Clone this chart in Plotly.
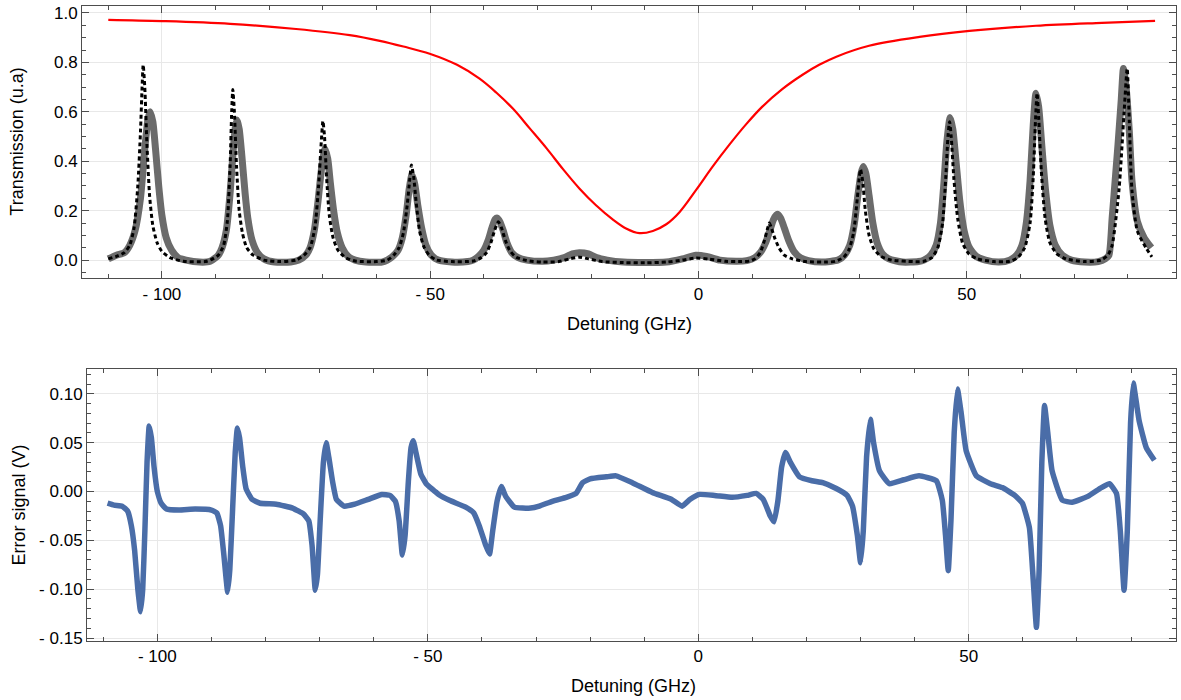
import plotly.graph_objects as go

# ---------------- data ----------------
red_x = [-110, -100, -87.3, -75, -65, -59.4, -55, -50.1, -45, -40.8, -37.7, -34.6, -31.45, -28.3, -25.25,
         -22.2, -19.1, -16, -13.5, -11, -8.5, -6, -3.5, -0.4, 2.7, 5.8, 8.9, 11.9, 15.5, 19.4, 22.5, 25.7,
         31.8, 41.2, 50.5, 62.9, 75.2, 85.1]
red_y = [0.972, 0.967, 0.956, 0.935, 0.91, 0.887, 0.864, 0.835, 0.79, 0.734, 0.678, 0.613, 0.533, 0.452, 0.368,
         0.29, 0.222, 0.165, 0.128, 0.109, 0.118, 0.145, 0.195, 0.285, 0.38, 0.468, 0.55, 0.621, 0.69, 0.75, 0.79, 0.823,
         0.867, 0.903, 0.927, 0.948, 0.96, 0.968]

gray_x = [-110, -108.5, -107, -106, -105, -104, -103.2, -102.6, -102.2, -101.7, -101.2, -100.6, -100, -99.2, -98.2, -97, -95.5, -93, -91,
          -89.5, -88.8, -88, -87.3, -86.7, -86.3, -86.0, -85.6, -85.1, -84.5, -84, -83.2, -82.2, -81, -79, -76,
          -74.5, -73.2, -72.4, -71.6, -70.9, -70.2, -69.6, -69.1, -68.6, -68, -67.3, -66.4, -65.3, -64, -62, -59,
          -58, -57, -56, -55.2, -54.5, -53.9, -53.4, -52.9, -52.3, -51.6, -50.8, -49.8, -48.5, -46, -43,
          -42, -41, -40, -39.2, -38.5, -37.9, -37.5, -37, -36.4, -35.7, -34.8, -33.6, -32, -29,
          -27, -25, -23.5, -22.2, -20.5, -19, -17, -14, -10, -6, -3, -0.5, 1.5, 4, 7,
          9, 10.5, 11.5, 12.5, 13.3, 14, 14.7, 15.3, 16, 16.8, 17.8, 19, 20.5, 23,
          26, 27.2, 28.2, 29, 29.7, 30.3, 30.7, 31.2, 31.8, 32.5, 33.3, 34.3, 35.5, 38, 41,
          42, 43.3, 44.3, 45.1, 45.7, 46.3, 46.9, 47.4, 48, 48.7, 49.5, 50.5, 51.8, 53.5, 56,
          58, 59.3, 60.3, 61.1, 61.8, 62.4, 62.9, 63.4, 64, 64.7, 65.5, 66.5, 67.8, 69.5, 72,
          74.5, 75.8, 76.5, 77.1, 77.8, 78.2, 78.8, 79.2, 79.7, 80.3, 80.8, 81.8, 83.1, 84.4]
gray_y = [0.005, 0.02, 0.03, 0.06, 0.12, 0.25, 0.45, 0.57, 0.60, 0.56, 0.45, 0.30, 0.18, 0.09, 0.04, 0.01, 0.0, -0.008, -0.005,
          0.02, 0.05, 0.12, 0.27, 0.45, 0.54, 0.567, 0.53, 0.42, 0.27, 0.17, 0.08, 0.03, 0.005, -0.008, -0.008,
          0.0, 0.02, 0.05, 0.12, 0.24, 0.38, 0.45, 0.41, 0.31, 0.20, 0.11, 0.05, 0.015, 0.0, -0.008, -0.008,
          0.0, 0.015, 0.04, 0.09, 0.18, 0.29, 0.345, 0.31, 0.22, 0.13, 0.06, 0.02, 0.0, -0.008, -0.006,
          0.0, 0.015, 0.04, 0.08, 0.13, 0.165, 0.17, 0.155, 0.12, 0.07, 0.03, 0.01, 0.0, -0.005,
          0.0, 0.01, 0.025, 0.03, 0.025, 0.01, 0.0, -0.008, -0.01, -0.008, 0.005, 0.02, 0.015, 0.0, -0.005,
          -0.002, 0.01, 0.03, 0.07, 0.12, 0.165, 0.185, 0.17, 0.13, 0.08, 0.035, 0.01, -0.002, -0.008,
          0.0, 0.02, 0.06, 0.14, 0.26, 0.35, 0.379, 0.35, 0.26, 0.15, 0.07, 0.025, 0.005, -0.008, -0.006,
          0.0, 0.02, 0.06, 0.15, 0.30, 0.48, 0.577, 0.53, 0.40, 0.24, 0.12, 0.05, 0.015, 0.0, -0.008,
          0.0, 0.02, 0.06, 0.15, 0.32, 0.55, 0.675, 0.62, 0.46, 0.28, 0.14, 0.06, 0.02, 0.0, -0.008,
          -0.006, 0.005, 0.02, 0.17, 0.36, 0.47, 0.65, 0.775, 0.70, 0.52, 0.32, 0.157, 0.089, 0.05]

fit_x = [-110, -108.5, -107, -106, -105.2, -104.5, -104, -103.7, -103.5, -103.2, -102.8, -102.3, -101.7, -100.9, -100, -98.5, -96, -92,
         -91, -89.5, -88.5, -87.8, -87.3, -87.0, -86.8, -86.5, -86.1, -85.6, -85, -84.2, -83, -81, -78,
         -75, -73.5, -72.4, -71.5, -70.8, -70.3, -70.0, -69.7, -69.3, -68.8, -68.1, -67.2, -65.8, -64, -60,
         -58, -56.8, -55.8, -55, -54.3, -53.8, -53.5, -53.1, -52.6, -52, -51.2, -50.2, -48.8, -46,
         -42, -40.5, -39.5, -38.7, -38, -37.3, -36.7, -36, -35.2, -34, -32, -29,
         -26, -24, -22.2, -20.5, -18, -14, -10, -6, -3, -0.5, 2, 5, 8,
         9.5, 10.5, 11.5, 12.3, 12.9, 13.2, 13.6, 14.2, 15, 16, 17.5, 20, 24,
         25.5, 27, 28, 28.9, 29.6, 30, 30.2, 30.6, 31.1, 31.8, 32.7, 34, 36, 40,
         42, 43.5, 44.6, 45.5, 46.1, 46.5, 46.8, 47.1, 47.6, 48.3, 49.2, 50.4, 52, 55,
         58, 59.5, 60.8, 61.8, 62.4, 62.8, 63.1, 63.4, 63.9, 64.6, 65.5, 66.8, 68.5, 72,
         75, 76.3, 77.1, 78.4, 79.3, 79.9, 80.3, 80.8, 81.8, 83.4, 84.5]
fit_y = [0.005, 0.015, 0.03, 0.06, 0.13, 0.30, 0.52, 0.70, 0.79, 0.70, 0.47, 0.26, 0.14, 0.07, 0.035, 0.01, -0.005, -0.006,
         0.0, 0.02, 0.06, 0.16, 0.38, 0.60, 0.69, 0.60, 0.38, 0.20, 0.11, 0.05, 0.02, 0.0, -0.006,
         0.0, 0.02, 0.05, 0.13, 0.30, 0.48, 0.563, 0.50, 0.33, 0.18, 0.09, 0.04, 0.01, -0.004, -0.006,
         0.0, 0.02, 0.05, 0.11, 0.22, 0.33, 0.385, 0.34, 0.23, 0.12, 0.055, 0.02, 0.0, -0.006,
         -0.004, 0.01, 0.03, 0.07, 0.12, 0.155, 0.13, 0.08, 0.04, 0.012, -0.002, -0.008,
         -0.006, 0.005, 0.012, 0.005, -0.006, -0.01, -0.011, -0.008, 0.0, 0.008, 0.004, -0.005, -0.006,
         -0.004, 0.005, 0.03, 0.08, 0.13, 0.15, 0.13, 0.09, 0.05, 0.02, 0.005, -0.006, -0.008,
         -0.005, 0.01, 0.04, 0.11, 0.25, 0.34, 0.367, 0.32, 0.20, 0.10, 0.045, 0.015, 0.0, -0.006,
         -0.005, 0.01, 0.05, 0.15, 0.34, 0.50, 0.56, 0.50, 0.33, 0.17, 0.07, 0.025, 0.005, -0.006,
         -0.005, 0.01, 0.05, 0.15, 0.34, 0.56, 0.675, 0.58, 0.36, 0.17, 0.07, 0.025, 0.005, -0.006,
         0.0, 0.02, 0.06, 0.29, 0.59, 0.775, 0.56, 0.28, 0.117, 0.05, 0.013]

err_x = [-109.2, -108, -106.5, -105.5, -104.8, -104.2, -103.6, -103.1, -102.7, -102.3, -101.9, -101.5, -101.1, -100.6, -100,
         -99.3, -98.3, -96, -93, -90, -89, -88.3, -87.7, -87.0, -86.6, -86.1, -85.6, -85.2, -84.8, -84.2, -83.6, -82.5,
         -81, -78, -75, -73, -72, -71.4, -70.8, -70.4, -69.9, -69.3, -68.8, -68.3, -67.6, -66.9, -65.5, -63.5, -61,
         -58.5, -57, -56, -55.3, -54.7, -54.2, -53.6, -53.1, -52.7, -52.2, -51.3, -50.3, -48, -46, -43, -41.5, -40.5,
         -39.3, -38.6, -38, -37.2, -36.4, -35.6, -34, -31, -29.4, -27, -24.4, -22.6, -21.4, -20, -17, -15.2, -12.2,
         -8.5, -5, -3, -1.5, 0.2, 3, 6.3, 9, 10.7, 12, 13.3, 14, 14.7, 15.4, 16.1, 17, 18.7, 21, 23, 25.5, 27.5,
         28.5, 29.4, 30, 30.5, 31.1, 31.8, 32.4, 33.5, 35.3, 38, 40.8, 44, 45.1, 45.7, 46.2, 46.7, 47.3, 47.9, 48.6,
         49.5, 51.4, 54, 56.2, 58.5, 59.9, 61.2, 61.9, 62.5, 63.0, 63.5, 64, 64.6, 65.4, 67.3, 69.1, 72, 74.5, 76,
         77.3, 78, 78.7, 79.3, 79.9, 80.4, 81, 81.5, 82.8, 84.3]
err_y = [-0.012, -0.014, -0.015, -0.02, -0.035, -0.06, -0.1, -0.123, -0.1, -0.04, 0.03, 0.067, 0.055, 0.025, 0.0,
         -0.012, -0.018, -0.019, -0.018, -0.019, -0.022, -0.035, -0.065, -0.103, -0.08, -0.02, 0.04, 0.065, 0.055, 0.025, 0.003, -0.008,
         -0.012, -0.013, -0.017, -0.023, -0.03, -0.055, -0.101, -0.085, -0.03, 0.03, 0.05, 0.035, 0.01, -0.008, -0.015, -0.013, -0.008,
         -0.003, -0.004, -0.01, -0.03, -0.065, -0.045, 0.01, 0.045, 0.052, 0.04, 0.018, 0.008, -0.003, -0.009, -0.016, -0.022, -0.035,
         -0.055, -0.064, -0.04, -0.01, 0.005, -0.005, -0.016, -0.017, -0.015, -0.01, -0.006, -0.002, 0.009, 0.013, 0.015, 0.016, 0.009,
         -0.001, -0.008, -0.015, -0.008, -0.003, -0.004, -0.006, -0.004, -0.002, -0.008, -0.025, -0.031, -0.01, 0.025, 0.04, 0.03, 0.015, 0.011, 0.009, 0.003, -0.004,
         -0.015, -0.045, -0.073, -0.04, 0.035, 0.074, 0.05, 0.021, 0.008, 0.012, 0.016, 0.011, -0.009, -0.045, -0.081, -0.03, 0.06, 0.105, 0.08,
         0.042, 0.016, 0.008, 0.004, -0.004, -0.012, -0.037, -0.09, -0.139, -0.08, 0.03, 0.088, 0.06, 0.021, -0.009, -0.011, -0.005, 0.004, 0.008,
         -0.002, -0.04, -0.101, -0.04, 0.07, 0.111, 0.09, 0.072, 0.045, 0.032]

x_ticks = [-100, -50, 0, 50]
x_tick_text = ["- 100", "- 50", "0", "50"]
y1_ticks = [0.0, 0.2, 0.4, 0.6, 0.8, 1.0]
y1_tick_text = ["0.0", "0.2", "0.4", "0.6", "0.8", "1.0"]
y2_ticks = [-0.15, -0.10, -0.05, 0.0, 0.05, 0.10]
y2_tick_text = ["- 0.15", "- 0.10", "- 0.05", "0.00", "0.05", "0.10"]

# ---------------- figure ----------------
FONT = "Liberation Sans, Arial, sans-serif"
FRAME = "#4d4d4d"
GRID = "#e8e8e8"

fig = go.Figure()
fig.add_trace(go.Scatter(x=gray_x, y=gray_y, mode="lines", xaxis="x", yaxis="y", hoverinfo="skip",
                         line=dict(color="#6b6b6b", width=7, shape="spline", smoothing=0.6)))
fig.add_trace(go.Scatter(x=fit_x, y=fit_y, mode="lines", xaxis="x", yaxis="y", hoverinfo="skip",
                         line=dict(color="black", width=3, dash="4px,3px", shape="spline", smoothing=0.6)))
fig.add_trace(go.Scatter(x=red_x, y=red_y, mode="lines", xaxis="x", yaxis="y", hoverinfo="skip",
                         line=dict(color="#ff0000", width=2.2, shape="spline", smoothing=1.0)))
fig.add_trace(go.Scatter(x=err_x, y=err_y, mode="lines", xaxis="x2", yaxis="y2", hoverinfo="skip",
                         line=dict(color="#4a6da8", width=5.5, shape="spline", smoothing=0.4)))

W, H = 1181, 700
ML, MR, MT, MB = 82, 4, 4, 59
PW, PH = W - ML - MR, H - MT - MB

def px(xp):
    return (xp - ML) / PW

def py(yp):
    return (H - MB - yp) / PH

common = dict(showline=True, linecolor=FRAME, linewidth=1, mirror="ticks",
              ticks="inside", ticklen=7, tickcolor=FRAME, tickwidth=1,
              showgrid=True, gridcolor=GRID, gridwidth=1, zeroline=False,
              tickfont=dict(family=FONT, size=17, color="black"))

fig.update_layout(
    width=W, height=H, showlegend=False, hovermode=False,
    margin=dict(l=ML, r=MR, t=MT, b=MB),
    paper_bgcolor="white", plot_bgcolor="white",
    xaxis=dict(domain=[0, 1], anchor="y", range=[-114.9, 89.0],
               tickmode="array", tickvals=x_ticks, ticktext=x_tick_text,
               minor=dict(ticks="inside", dtick=10, tick0=0, ticklen=4, tickcolor=FRAME, showgrid=False),
               **common),
    yaxis=dict(domain=[py(277), 1], anchor="x", range=[-0.073, 1.028],
               tickmode="array", tickvals=y1_ticks, ticktext=y1_tick_text,
               minor=dict(ticks="inside", dtick=0.05, tick0=0, ticklen=4, tickcolor=FRAME, showgrid=False),
               **common),
    xaxis2=dict(domain=[px(87), 1], anchor="y2", range=[-113.0, 88.3],
                tickmode="array", tickvals=x_ticks, ticktext=x_tick_text,
                minor=dict(ticks="inside", dtick=10, tick0=0, ticklen=4, tickcolor=FRAME, showgrid=False),
                **common),
    yaxis2=dict(domain=[0, py(368)], anchor="x2", range=[-0.153, 0.1255],
                tickmode="array", tickvals=y2_ticks, ticktext=y2_tick_text,
                minor=dict(ticks="inside", dtick=0.01, tick0=0, ticklen=4, tickcolor=FRAME, showgrid=False),
                **common),
)

title_font = dict(family=FONT, size=18, color="black")
fig.add_annotation(text="Transmission (u.a)", xref="paper", yref="paper", x=px(17), y=py(140),
                   textangle=-90, showarrow=False, font=title_font, xanchor="center", yanchor="middle")
fig.add_annotation(text="Error signal (V)", xref="paper", yref="paper", x=px(19), y=py(505),
                   textangle=-90, showarrow=False, font=title_font, xanchor="center", yanchor="middle")
fig.add_annotation(text="Detuning (GHz)", xref="paper", yref="paper", x=px(630), y=py(323),
                   showarrow=False, font=title_font, xanchor="center", yanchor="middle")
fig.add_annotation(text="Detuning (GHz)", xref="paper", yref="paper", x=px(634), y=py(686),
                   showarrow=False, font=title_font, xanchor="center", yanchor="middle")

fig.write_html("out.html", config={"displayModeBar": False, "staticPlot": True},
               post_script="document.body.style.margin='0';document.body.style.padding='0';document.body.style.overflow='hidden';")
